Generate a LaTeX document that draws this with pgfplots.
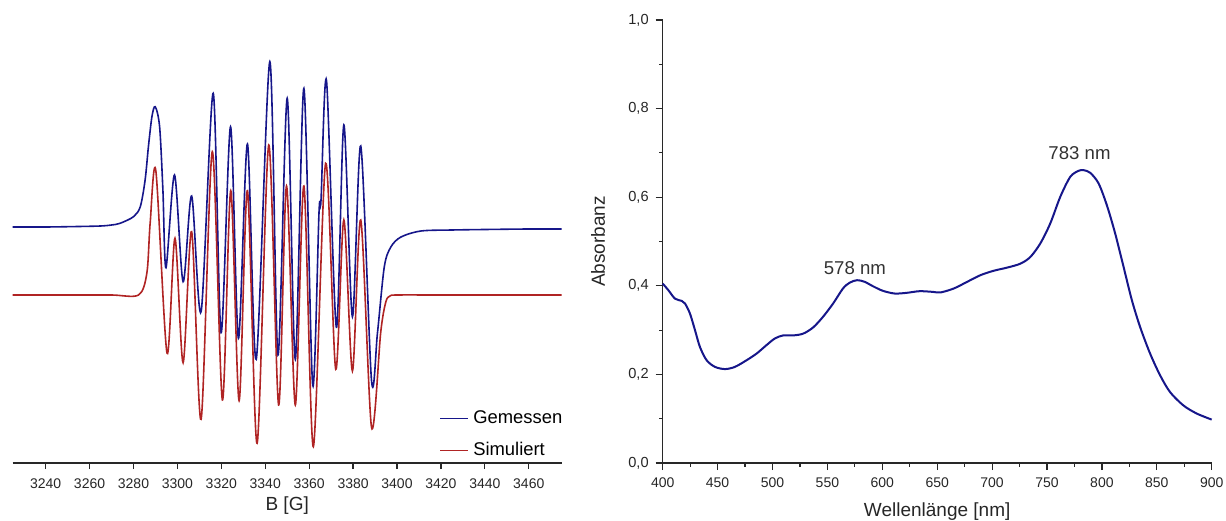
\documentclass[border=0pt]{standalone}
\usepackage{fontspec}
\setmainfont{Liberation Sans}
\usepackage{pgfplots}
\pgfplotsset{compat=1.18}
\definecolor{navy}{RGB}{22,22,138}
\definecolor{dred}{RGB}{176,36,36}
\definecolor{axgray}{RGB}{40,40,40}
\begin{document}
\begin{tikzpicture}[x=1pt,y=1pt]
\path[use as bounding box] (0,0) rectangle (613,260);
\begin{axis}[
  at={(6.35pt,28.5pt)}, anchor=south west,
  scale only axis, width=274.5pt, height=221.5pt,
  xmin=3225, xmax=3475, ymin=0, ymax=443,
  axis x line*=bottom, axis y line=none,
  xtick={3240,3260,...,3460},
  tick align=outside, major tick length=3pt,
  xticklabel shift=1.5pt,
  /pgf/number format/assume math mode=true,
  x tick label style={font=\fontsize{7}{8}\selectfont, /pgf/number format/1000 sep={}, text=black!85},
  xlabel={B [G]}, xlabel style={font=\fontsize{9.5}{11}\selectfont, text=black!85,
    at={(axis description cs:0.5,-0.097)}, anchor=center},
  axis line style={axgray, line width=0.7pt},
  every tick/.style={axgray, line width=0.6pt},
  clip=false,
  legend style={draw=none, fill=none, at={(1.009,0)}, anchor=south east, inner sep=0pt,
    font=\fontsize{9.2}{10}\selectfont, row sep=4pt},
  legend cell align=left,
  legend image code/.code={\draw[#1, line width=0.8pt] (0pt,0pt) -- (14pt,0pt);},
]
\addplot[navy, line width=0.8pt, smooth, tension=0.5] coordinates {
(3225,236) (3240,236) (3255,236.5) (3265,237) (3270,238) (3273.9,239.7) (3280.0,246.3)
(3283.1,256.3) (3285.3,283) (3286.8,316.3) (3288.4,346.3) (3289.9,356.3)
(3291.9,336.3) (3293.4,273)
(3294.8,195.3) (3298.7,288) (3302.6,181.3) (3306.5,267) (3310.8,151.3)
(3316.3,369.7) (3319.9,130.3) (3324.2,336.3) (3327.8,124.7) (3331.9,319)
(3335.9,103.7) (3342.1,401.3) (3345.8,108) (3350.0,364.7) (3353.7,103.7)
(3357.6,374.7) (3361.6,78) (3364.5,251.3) (3365.4,263) (3367.9,382.3)
(3372.4,135.7) (3375.8,338) (3379.7,146.3) (3383.5,317) (3388.4,82.3)
(3391.1,130) (3394.2,196) (3397.2,216) (3401.8,226) (3410.9,232)
(3425,233) (3440,233.5) (3460,234) (3475,234)
};
\addlegendentry{Gemessen}
\addplot[dred, line width=0.8pt, smooth, tension=0.5] coordinates {
(3225,168) (3250,168) (3270,168) (3282.3,168) (3286.1,190) (3287.6,240)
(3290.2,292) (3295.3,109.7) (3298.9,224.7) (3302.6,100.3) (3306.5,231.3)
(3310.8,43.7) (3315.9,311.3) (3320.5,63) (3324.3,272.3) (3328.1,62.3)
(3331.9,272.3) (3336.3,19.7) (3341.6,318) (3346.1,58) (3349.7,277)
(3353.7,58) (3357.6,277) (3361.9,16.3) (3367.5,299.7) (3372.1,93.7)
(3375.8,243) (3379.7,92) (3383.5,243) (3388.4,35.7) (3392.6,131)
(3394.9,161) (3396.8,167) (3400,168) (3420,168) (3450,168) (3475,168)
};
\addlegendentry{Simuliert}
\end{axis}
\begin{axis}[
  at={(331.35pt,28.5pt)}, anchor=south west,
  scale only axis, width=274.5pt, height=221.5pt,
  xmin=400, xmax=900, ymin=0, ymax=1,
  axis lines*=left,
  xtick={400,450,...,900}, ytick={0,0.2,0.4,0.6,0.8,1.0},
  minor x tick num=1, minor y tick num=1,
  tick align=outside, major tick length=3.5pt, minor tick length=1.8pt,
  xticklabel shift=0.3pt,
  /pgf/number format/assume math mode=true,
  x tick label style={font=\fontsize{7}{8}\selectfont, /pgf/number format/1000 sep={}, text=black!85},
  y tick label style={font=\fontsize{7.3}{8}\selectfont, text=black!85,
    /pgf/number format/.cd, use comma, fixed, fixed zerofill, precision=1},
  xlabel={Wellenlänge [nm]}, ylabel={Absorbanz},
  label style={font=\fontsize{9.5}{11}\selectfont, text=black!85},
  xlabel style={at={(axis description cs:0.5,-0.109)}, anchor=center},
  ylabel style={at={(axis description cs:-0.1177,0.5)}, anchor=center},
  axis line style={axgray, line width=0.7pt},
  every tick/.style={axgray, line width=0.6pt},
  clip=false,
]
\addplot[navy, line width=1pt, smooth, tension=0.5] coordinates {
(400,0.405) (405.2,0.390) (411.2,0.371) (417.3,0.366) (420.3,0.360)
(424.8,0.3375) (429.4,0.300) (433.9,0.262) (440,0.232) (447.6,0.217)
(456.7,0.212) (465.8,0.217) (476.4,0.232) (485.5,0.247) (494.5,0.266)
(502.1,0.281) (509.7,0.288) (518.8,0.288) (527.9,0.292) (537,0.306)
(546,0.330) (555.2,0.360) (564.2,0.394) (570.3,0.407) (577,0.4127)
(583.9,0.409) (591.5,0.399) (600.6,0.3886) (611.2,0.3826) (621.8,0.384)
(633.9,0.3878) (646,0.3863) (653,0.385) (665.2,0.394) (677.3,0.409)
(689.4,0.424) (701.5,0.434) (713.6,0.441) (725.8,0.450) (734.8,0.465)
(743.9,0.4956) (753,0.541) (762.1,0.601) (771.2,0.646) (778.8,0.6596)
(783.3,0.661) (789.4,0.655) (797,0.631) (804.5,0.582) (812.1,0.518)
(819.7,0.443) (827.3,0.3675) (834.8,0.307) (843.9,0.247) (853,0.198)
(862.1,0.160) (874.2,0.130) (886.4,0.1116) (900,0.098)
};
\node[font=\fontsize{9.3}{11}\selectfont, text=black!80] at (axis cs:575,0.439) {578 nm};
\node[font=\fontsize{9.3}{11}\selectfont, text=black!80] at (axis cs:779.6,0.700) {783 nm};
\end{axis}
\end{tikzpicture}
\end{document}
